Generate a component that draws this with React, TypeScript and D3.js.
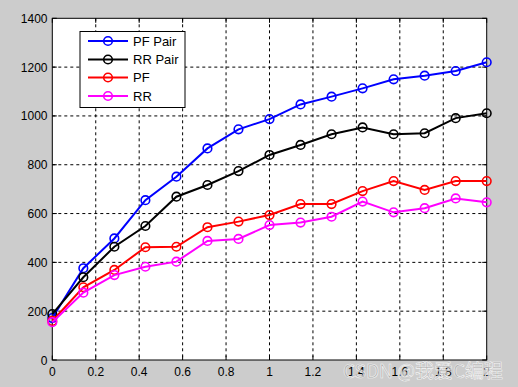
import React from "react";
import * as d3 from "d3";

const xTicks = [0, 0.2, 0.4, 0.6, 0.8, 1, 1.2, 1.4, 1.6, 1.8, 2];
const xTickLabels = ["0", "0.2", "0.4", "0.6", "0.8", "1", "1.2", "1.4", "1.6", "1.8", "2"];
const yTicks = [0, 200, 400, 600, 800, 1000, 1200, 1400];
const xValues = [0, 1, 2, 3, 4, 5, 6, 7, 8, 9, 10, 11, 12, 13, 14].map((i) => (i * 2) / 14);

const seriesNames = ["PF Pair", "RR Pair", "PF", "RR"];
const seriesColors = ["#0000ff", "#000000", "#ff0000", "#ff00ff"];
const pfPair = [172, 376, 498, 655, 751, 867, 945, 987, 1047, 1079, 1113, 1150, 1165, 1184, 1220];
const rrPair = [188, 339, 464, 549, 669, 717, 774, 840, 881, 925, 953, 925, 929, 991, 1011];
const pf = [160, 298, 369, 462, 464, 544, 567, 594, 639, 639, 692, 733, 697, 733, 733];
const rr = [155, 276, 348, 382, 403, 488, 496, 553, 563, 587, 649, 605, 622, 662, 646];
const seriesValues = [pfPair, rrPair, pf, rr];

export default function App() {
  const W = 518, H = 387;
  const L = 52.3, R = 486.7, T = 18.3, B = 360;
  const x = d3.scaleLinear().domain([0, 2]).range([L, R]);
  const y = d3.scaleLinear().domain([0, 1400]).range([B, T]);
  const line = d3.line<number>().x((_, i) => x(xValues[i])).y((d) => y(d));
  const font = "'Liberation Sans', Arial, sans-serif";
  const tickLen = 4.5;
  const legend = { x0: 80, y0: 31.5, x1: 185, y1: 107.5, rows: [41, 59.5, 77.5, 96] };

  return (
    <div style={{ position: "fixed", left: 0, top: 0 }}>
      <svg width={W} height={H} style={{ display: "block" }}>
        <rect x={0} y={0} width={W} height={H} fill="#cccccc" />
        <rect x={L} y={T} width={R - L} height={B - T} fill="#ffffff" />
        {/* grid */}
        {xTicks.slice(1, -1).map((t) => (
          <line key={"gx" + t} x1={x(t)} x2={x(t)} y1={T} y2={B} stroke="#000" strokeWidth={1} strokeDasharray="3,3" />
        ))}
        {yTicks.slice(1, -1).map((t) => (
          <line key={"gy" + t} x1={L} x2={R} y1={y(t)} y2={y(t)} stroke="#000" strokeWidth={1} strokeDasharray="3,3" />
        ))}
        {/* ticks */}
        {xTicks.map((t) => (
          <g key={"tx" + t}>
            <line x1={x(t)} x2={x(t)} y1={B} y2={B - tickLen} stroke="#000" />
            <line x1={x(t)} x2={x(t)} y1={T} y2={T + tickLen} stroke="#000" />
          </g>
        ))}
        {yTicks.map((t) => (
          <g key={"ty" + t}>
            <line x1={L} x2={L + tickLen} y1={y(t)} y2={y(t)} stroke="#000" />
            <line x1={R} x2={R - tickLen} y1={y(t)} y2={y(t)} stroke="#000" />
          </g>
        ))}
        <rect x={L} y={T} width={R - L} height={B - T} fill="none" stroke="#000" strokeWidth={1} />
        {/* tick labels */}
        {xTicks.map((t, i) => (
          <text key={"lx" + t} x={x(t)} y={376} textAnchor="middle" fontFamily={font} fontSize={12} fill="#000">
            {xTickLabels[i]}
          </text>
        ))}
        {yTicks.map((t) => (
          <text key={"ly" + t} x={47.5} y={y(t) + 4.5} textAnchor="end" fontFamily={font} fontSize={12} fill="#000">
            {t}
          </text>
        ))}
        {/* series */}
        {seriesValues.map((vals, s) => (
          <g key={"s" + s}>
            <path d={line(vals) || ""} fill="none" stroke={seriesColors[s]} strokeWidth={2} />
            {vals.map((v, i) => (
              <circle key={i} cx={x(xValues[i])} cy={y(v)} r={4.3} fill="none" stroke={seriesColors[s]} strokeWidth={1.6} />
            ))}
          </g>
        ))}
        {/* legend */}
        <rect x={legend.x0} y={legend.y0} width={legend.x1 - legend.x0} height={legend.y1 - legend.y0} fill="#fff" stroke="#000" strokeWidth={1} />
        {seriesNames.map((n, i) => (
          <g key={"lg" + n}>
            <line x1={88} x2={128} y1={legend.rows[i]} y2={legend.rows[i]} stroke={seriesColors[i]} strokeWidth={2} />
            <circle cx={108} cy={legend.rows[i]} r={4.3} fill="none" stroke={seriesColors[i]} strokeWidth={1.6} />
            <text x={133} y={legend.rows[i] + 4.7} fontFamily={font} fontSize={13} fill="#000">
              {n}
            </text>
          </g>
        ))}
        {/* watermark */}
        <text x={343} y={378} fontFamily="'Noto Sans CJK SC', sans-serif" fontSize={19} fill="#aaaaaa" stroke="#ffffff" strokeWidth={0.6} opacity={0.85}>
          CSDN @我爱C编程
        </text>
      </svg>
    </div>
  );
}
